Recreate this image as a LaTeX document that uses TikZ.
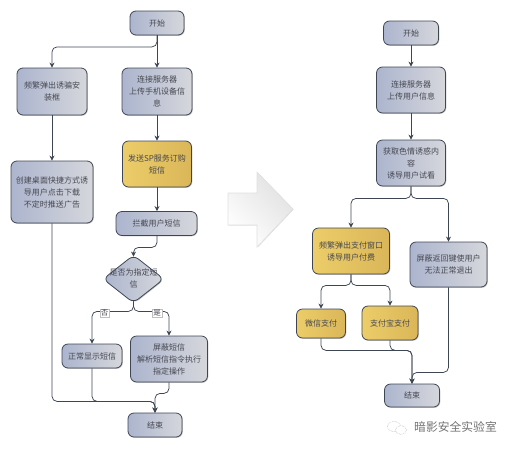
\documentclass[tikz,border=0pt]{standalone}
\usepackage{xcolor}
\usepackage{fontspec}
\setmainfont{Noto Sans CJK SC}
\usetikzlibrary{shapes.geometric, arrows.meta, positioning, calc, shadows}
\definecolor{flowborder}{RGB}{62,70,84}
\definecolor{flowtext}{RGB}{70,72,80}
\definecolor{blueleft}{RGB}{172,181,206}
\definecolor{blueright}{RGB}{214,215,220}
\definecolor{goldleft}{RGB}{236,205,105}
\definecolor{goldright}{RGB}{218,182,88}

\begin{document}
\begin{tikzpicture}[
    x=1pt, y=-1pt,
    flowbox/.style={rectangle, draw=flowborder, line width=0.8pt, rounded corners=6pt,
                    text=flowtext, font=\fontsize{8}{12}\selectfont, align=center,
                    inner sep=0pt, shading=axis, shading angle=115,
                    drop shadow={shadow xshift=0.8pt, shadow yshift=-0.8pt, fill=black!45, opacity=0.5}},
    bluebox/.style={flowbox, left color=blueleft, right color=blueright},
    goldbox/.style={flowbox, left color=goldleft, right color=goldright},
    link/.style={draw=flowborder, line width=0.75pt, rounded corners=5pt, -{Stealth[length=5pt,width=5pt]}},
    choice/.style={draw=black!25, fill=white, line width=0.3pt, inner sep=1pt,
                   text=flowtext, font=\fontsize{7.5}{9}\selectfont}
]
    \useasboundingbox (0,0) rectangle (513,450);

    % Left flow
    \node[bluebox, minimum width=54pt, minimum height=24pt] (startA) at (157,23) {开始};
    \node[bluebox, minimum width=70pt, minimum height=47pt] (popup) at (52,91.5) {频繁弹出诱骗安\\装框};
    \node[bluebox, minimum width=70pt, minimum height=47pt] (connectA) at (157,91.5) {连接服务器\\上传手机设备信\\息};
    \node[goldbox, minimum width=69pt, minimum height=46pt] (sendsp) at (157,164) {发送SP服务订购\\短信};
    \node[bluebox, minimum width=82pt, minimum height=62pt] (desktop) at (52,192) {创建桌面快捷方式诱\\导用户点击下载\\不定时推送广告};
    \node[bluebox, minimum width=81pt, minimum height=24pt] (intercept) at (156.5,223.5) {拦截用户短信};
    \node[flowbox, diamond, left color=blueleft, right color=blueright, rounded corners=6pt,
          minimum width=61pt, minimum height=48pt] (check) at (133.5,279) {};
    \node[text=flowtext, font=\fontsize{8}{12}\selectfont, align=center] (checktext) at (133.5,278) {是否为指定短\\信};
    \node[bluebox, minimum width=60pt, minimum height=24pt] (normal) at (92,356) {正常显示短信};
    \node[bluebox, minimum width=77pt, minimum height=46pt] (block) at (169,359) {屏蔽短信\\解析短信指令执行\\指定操作};
    \node[bluebox, minimum width=54pt, minimum height=24pt] (endA) at (155,425) {结束};

    \draw[link] (startA.south) -- (connectA.north);
    \draw[link] (startA.south) -- ++(0,11.5) -| (popup.north);
    \draw[link] (popup.south) -- (desktop.north);
    \draw[link] (connectA.south) -- (sendsp.north);
    \draw[link] (sendsp.south) -- (sendsp.south |- intercept.north);
    \draw[link] (intercept.south -| sendsp.south) -- ++(0,11.5) -| ([yshift=-2pt]check.north);
    \draw[link] ([yshift=2pt]check.south) -- ++(0,10) -| (normal.north);
    \draw[link] ([yshift=2pt]check.south) -- ++(0,10) -| (block.north);
    \draw[link] (block.south) -- ++(0,11) -| (endA.north);
    \draw[link] (normal.south) -- ++(0,33) -| (endA.north);
    \draw[link] (desktop.south) -- ++(0,178) -| (endA.north);

    % Yes / no labels
    \node[choice] (no) at (104.5,313) {否};
    \node[choice] (yes) at (157,313) {是};

    % Big arrow between the flows
    \shadedraw[draw=black!12, line width=0.6pt, left color=white, right color=black!12, shading angle=135,
               drop shadow={shadow xshift=0.6pt, shadow yshift=-0.6pt, fill=black!30, opacity=0.4}]
        (228,193) -- (257,193) -- (257,172) -- (293,209) -- (257,247) -- (257,225) -- (228,225) -- cycle;

    % Right flow
    \node[bluebox, minimum width=55pt, minimum height=24pt] (startB) at (411,33) {开始};
    \node[bluebox, minimum width=69pt, minimum height=46pt] (connectB) at (411,90) {连接服务器\\上传用户信息};
    \node[bluebox, minimum width=69pt, minimum height=46pt] (fetch) at (411,163) {获取色情诱惑内\\容\\诱导用户试看};
    \node[goldbox, minimum width=77pt, minimum height=46pt] (payment) at (351,251) {频繁弹出支付窗口\\诱导用户付费};
    \node[bluebox, minimum width=77pt, minimum height=45pt] (backkey) at (448.5,264.5) {屏蔽返回键使用户\\无法正常退出};
    \node[goldbox, minimum width=49pt, minimum height=29pt] (wechat) at (321,323.5) {微信支付};
    \node[goldbox, minimum width=56pt, minimum height=34pt] (alipay) at (390,323) {支付宝支付};
    \node[bluebox, minimum width=55pt, minimum height=23pt] (endB) at (412,395.5) {结束};

    \draw[link] (startB.south) -- (connectB.north);
    \draw[link] (connectB.south) -- (fetch.north);
    \draw[link] (fetch.south) -- ++(0,12) -| (payment.north);
    \draw[link] (fetch.south) -- ++(0,12) -| (backkey.north);
    \draw[link] (payment.south) -- ++(0,11) -| (wechat.north);
    \draw[link] (payment.south) -- ++(0,11) -| (alipay.north);
    \draw[link] (wechat.south) -- ++(0,12) -| (endB.north);
    \draw[link] (alipay.south) -- ++(0,10) -| (endB.north);
    \draw[link] (backkey.south) -- ++(0,85) -| (endB.north);

    % Watermark
    \draw[black!30, line width=0.5pt, densely dotted, fill=white] (394,426.5) ellipse (6.5pt and 5pt);
    \draw[black!30, line width=0.5pt, densely dotted, fill=white] (401,430) ellipse (5.5pt and 4.5pt);
    \node[text=black!55, font=\fontsize{11.8}{14}\selectfont, inner sep=0pt] (mark) at (455.5,427) {暗影安全实验室};
\end{tikzpicture}
\end{document}
